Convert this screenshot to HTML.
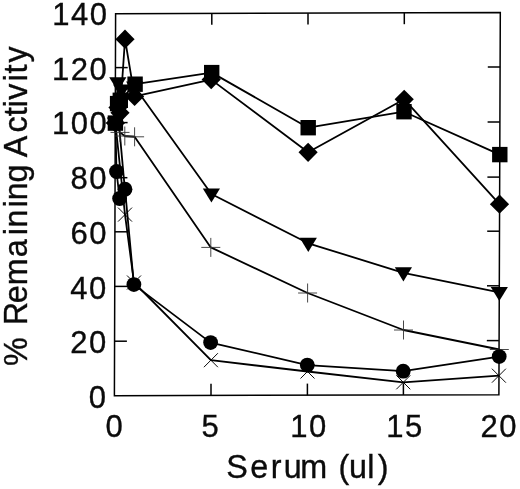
<!DOCTYPE html>
<html lang="en"><head><meta charset="utf-8"><title>Serum vs % Remaining Activity</title>
<style>
html,body{margin:0;padding:0;background:#fff;}
body{width:520px;height:489px;overflow:hidden;font-family:"Liberation Sans",Arial,Helvetica,sans-serif;}
svg{display:block;}
</style></head><body>
<svg width="520" height="489" viewBox="0 0 520 489">
<rect width="520" height="489" fill="#fff"/>
<g fill="none" stroke="#000" stroke-width="1.5" stroke-linejoin="miter">
<polygon points="115.6,13.7 500.3,12.6 498.9,394.7 114.4,395.7"/>
<path d="M115.4 67.6h12.3"/>
<path d="M500.1 67.0h-12.3"/>
<path d="M115.3 122.6h12.3"/>
<path d="M499.9 122.0h-12.3"/>
<path d="M115.1 177.7h12.3"/>
<path d="M499.7 177.1h-12.3"/>
<path d="M114.9 231.8h12.3"/>
<path d="M499.5 231.2h-12.3"/>
<path d="M114.7 286.4h12.3"/>
<path d="M499.3 285.8h-12.3"/>
<path d="M114.6 341.2h12.3"/>
<path d="M499.1 340.6h-12.3"/>
<path d="M211.8 13.4v11.3"/>
<path d="M211.0 395.4v-11.6"/>
<path d="M308.0 13.2v11.3"/>
<path d="M307.4 395.2v-11.6"/>
<path d="M404.3 12.9v11.3"/>
<path d="M403.4 394.9v-11.6"/>
</g>
<g fill="none" stroke="#000" stroke-width="1.8" stroke-linejoin="round">
<polyline points="115.4,123.1 117.6,103.6 120.3,100.3 135.1,84.2 211.7,72.6 308.2,127.7 404.0,111.7 499.8,154.6"/>
<polyline points="115.4,123.0 118.0,107.5 120.0,112.8 125.0,39.2 134.6,96.4 211.2,79.6 308.1,152.3 404.2,99.3 499.5,204.2"/>
<polyline points="115.4,123.0 117.8,82.7 121.6,89.9 134.7,87.0 211.4,194.0 308.3,243.3 403.4,272.8 499.3,292.4"/>
<polyline points="115.4,123.0 120.0,132.4 124.8,136.0 134.6,136.8 210.8,247.4 307.6,293.0 403.5,330.0 499.3,349.5"/>
<polyline points="115.4,123.0 116.5,171.5 119.6,198.5 125.0,189.2 133.9,284.6 210.6,342.6 307.3,365.1 403.2,371.2 499.2,356.6"/>
<polyline points="115.4,123.0 125.0,214.6 134.0,282.5 210.9,360.2 307.5,371.5 403.3,382.3 498.9,375.7"/>
<polyline points="119.7,132.4 124.2,182.0"/>
</g>
<g fill="none" stroke="#333" stroke-width="0.9">
<path d="M105.9 123.0H124.9M115.4 113.5V132.5"/>
<path d="M110.5 132.4H129.5M120.0 122.9V141.9"/>
<path d="M115.3 136.0H134.3M124.8 126.5V145.5"/>
<path d="M125.1 136.8H144.1M134.6 127.3V146.3"/>
<path d="M201.3 247.4H220.3M210.8 237.9V256.9"/>
<path d="M298.1 293.0H317.1M307.6 283.5V302.5"/>
<path d="M394.0 330.0H413.0M403.5 320.5V339.5"/>
<path d="M489.8 349.5H508.8M499.3 340.0V359.0"/>
</g>
<g fill="none" stroke="#000" stroke-width="0.95">
<path d="M108.4 116.0L122.4 130.0M108.4 130.0L122.4 116.0"/>
<path d="M118.0 207.6L132.0 221.6M118.0 221.6L132.0 207.6"/>
<path d="M127.0 275.5L141.0 289.5M127.0 289.5L141.0 275.5"/>
<path d="M203.9 353.2L217.9 367.2M203.9 367.2L217.9 353.2"/>
<path d="M300.5 364.5L314.5 378.5M300.5 378.5L314.5 364.5"/>
<path d="M396.3 375.3L410.3 389.3M396.3 389.3L410.3 375.3"/>
<path d="M491.9 368.7L505.9 382.7M491.9 382.7L505.9 368.7"/>
</g>
<g fill="#000">
<rect x="107.7" y="115.4" width="15.4" height="15.4"/>
<rect x="109.9" y="95.9" width="15.4" height="15.4"/>
<rect x="112.6" y="92.6" width="15.4" height="15.4"/>
<rect x="127.4" y="76.5" width="15.4" height="15.4"/>
<rect x="204.0" y="64.9" width="15.4" height="15.4"/>
<rect x="300.5" y="120.0" width="15.4" height="15.4"/>
<rect x="396.3" y="104.0" width="15.4" height="15.4"/>
<rect x="492.1" y="146.9" width="15.4" height="15.4"/>
<polygon points="105.8,123.0 115.4,113.4 125.0,123.0 115.4,132.6"/>
<polygon points="108.4,107.5 118.0,97.9 127.6,107.5 118.0,117.1"/>
<polygon points="110.4,112.8 120.0,103.2 129.6,112.8 120.0,122.4"/>
<polygon points="115.4,39.2 125.0,29.6 134.6,39.2 125.0,48.8"/>
<polygon points="125.0,96.4 134.6,86.8 144.2,96.4 134.6,106.0"/>
<polygon points="201.6,79.6 211.2,70.0 220.8,79.6 211.2,89.2"/>
<polygon points="298.5,152.3 308.1,142.7 317.7,152.3 308.1,161.9"/>
<polygon points="394.6,99.3 404.2,89.7 413.8,99.3 404.2,108.9"/>
<polygon points="489.9,204.2 499.5,194.6 509.1,204.2 499.5,213.8"/>
<polygon points="106.8,117.5 124.0,117.5 115.4,131.6"/>
<polygon points="109.2,77.2 126.4,77.2 117.8,91.3"/>
<polygon points="113.0,84.4 130.2,84.4 121.6,98.5"/>
<polygon points="126.1,81.5 143.3,81.5 134.7,95.6"/>
<polygon points="202.8,188.5 220.0,188.5 211.4,202.6"/>
<polygon points="299.7,237.8 316.9,237.8 308.3,251.9"/>
<polygon points="394.8,267.3 412.0,267.3 403.4,281.4"/>
<polygon points="490.7,286.9 507.9,286.9 499.3,301.0"/>
<circle cx="115.4" cy="123.0" r="7.4"/>
<circle cx="116.5" cy="171.5" r="7.4"/>
<circle cx="119.6" cy="198.5" r="7.4"/>
<circle cx="125.0" cy="189.2" r="7.4"/>
<circle cx="133.9" cy="284.6" r="7.4"/>
<circle cx="210.6" cy="342.6" r="7.4"/>
<circle cx="307.3" cy="365.1" r="7.4"/>
<circle cx="403.2" cy="371.2" r="7.4"/>
<circle cx="499.2" cy="356.6" r="7.4"/>
</g>
<g font-family="'Liberation Sans', Arial, Helvetica, sans-serif" font-size="31" fill="#0b0b0b" stroke="#0b0b0b" stroke-width="0.35" letter-spacing="1.5">
<text x="108.4" y="25.4" text-anchor="end">140</text>
<text x="108.3" y="80.0" text-anchor="end">120</text>
<text x="108.2" y="134.4" text-anchor="end">100</text>
<text x="108.1" y="188.6" text-anchor="end">80</text>
<text x="108.0" y="244.0" text-anchor="end">60</text>
<text x="107.8" y="299.0" text-anchor="end">40</text>
<text x="107.7" y="353.2" text-anchor="end">20</text>
<text x="107.6" y="407.7" text-anchor="end">0</text>
<text x="114.95" y="437.2" text-anchor="middle">0</text>
<text x="210.75" y="437.2" text-anchor="middle">5</text>
<text x="308.95" y="437.2" text-anchor="middle">10</text>
<text x="404.95" y="437.2" text-anchor="middle">15</text>
<text x="499.25" y="437.2" text-anchor="middle">20</text>
<text font-size="32.3" letter-spacing="0" x="226.3 250.3 270.7 283.7 300.3 330.0 338.5 348.9 367.3 377.7" y="478.3">Serum (ul)</text>
<text font-size="32.3" letter-spacing="0" transform="translate(27 0) rotate(-90)" x="-366.0 -350.0 -325.2 -303.2 -285.2 -257.2 -235.2 -227.4 -207.4 -200.2 -182.4 -162.0 -157.2 -132.6 -116.2 -107.4 -99.8 -81.6 -73.6 -62.6" y="0">% Remaining Activity</text>
</g>
</svg>
</body></html>
